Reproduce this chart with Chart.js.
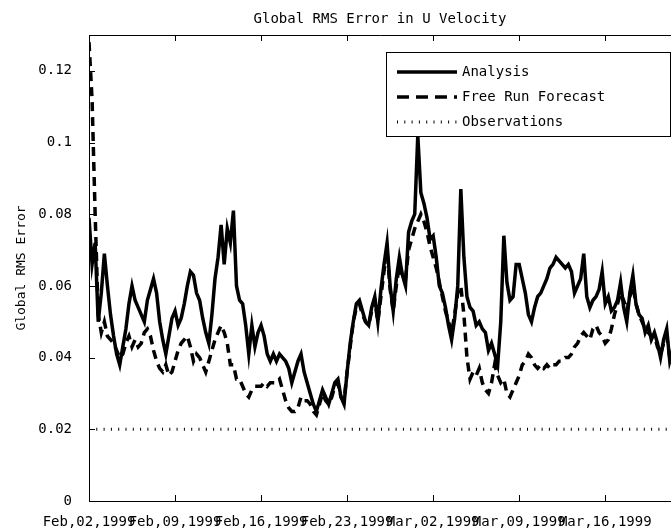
<!DOCTYPE html>
<html>
<head>
<meta charset="utf-8">
<script src="https://cdn.jsdelivr.net/npm/chart.js@4"></script>
<style>
body { margin: 0; background: #fff; }
</style>
</head>
<body>
<canvas id="rmsChart" width="671" height="530"></canvas>
<script>
var STEP = 0.25; // days between samples (6 hourly)
var tickDays = [0, 7, 14, 21, 28, 35, 42];
var tickLabels = ['Feb,02,1999', 'Feb,09,1999', 'Feb,16,1999', 'Feb,23,1999', 'Mar,02,1999', 'Mar,09,1999', 'Mar,16,1999'];
var yTicks = [0, 0.02, 0.04, 0.06, 0.08, 0.1, 0.12];
var yTickLabels = ['0', '0.02', '0.04', '0.06', '0.08', '0.1', '0.12'];

// one row per day
var analysis = [
    0.079, 0.066, 0.072, 0.050,
    0.058, 0.069, 0.060, 0.052,
    0.046, 0.041, 0.038, 0.043,
    0.048, 0.055, 0.060, 0.056,
    0.054, 0.052, 0.050, 0.056,
    0.059, 0.062, 0.058, 0.050,
    0.045, 0.041, 0.046, 0.051,
    0.053, 0.049, 0.051, 0.055,
    0.060, 0.064, 0.063, 0.058,
    0.056, 0.051, 0.047, 0.044,
    0.052, 0.062, 0.068, 0.077,
    0.066, 0.076, 0.072, 0.081,
    0.060, 0.056, 0.055, 0.049,
    0.041, 0.049, 0.043, 0.047,
    0.049, 0.046, 0.041, 0.039,
    0.041, 0.039, 0.041, 0.040,
    0.039, 0.037, 0.033, 0.036,
    0.039, 0.041, 0.036, 0.033,
    0.030, 0.027, 0.025, 0.028,
    0.031, 0.029, 0.027, 0.030,
    0.033, 0.034, 0.029, 0.027,
    0.036, 0.044, 0.050, 0.055,
    0.056, 0.053, 0.050, 0.049,
    0.054, 0.057, 0.050, 0.059,
    0.066, 0.072, 0.060, 0.053,
    0.062, 0.068, 0.063, 0.060,
    0.075, 0.078, 0.080, 0.102,
    0.086, 0.083, 0.079, 0.073,
    0.074, 0.068, 0.060, 0.058,
    0.054, 0.049, 0.045, 0.051,
    0.060, 0.087, 0.068, 0.057,
    0.054, 0.053, 0.049, 0.050,
    0.048, 0.047, 0.042, 0.044,
    0.041, 0.038, 0.050, 0.074,
    0.061, 0.056, 0.057, 0.066,
    0.066, 0.062, 0.058, 0.052,
    0.050, 0.054, 0.057, 0.058,
    0.060, 0.062, 0.065, 0.066,
    0.068, 0.067, 0.066, 0.065,
    0.066, 0.064, 0.058, 0.060,
    0.062, 0.069, 0.057, 0.054,
    0.056, 0.057, 0.059, 0.064,
    0.055, 0.057, 0.053, 0.054,
    0.056, 0.061, 0.054, 0.050,
    0.058, 0.063, 0.055, 0.052,
    0.051, 0.047, 0.049, 0.045,
    0.047, 0.044, 0.040, 0.045,
    0.048, 0.039, 0.042
];

var forecast = [
    0.128, 0.112, 0.080, 0.052,
    0.047, 0.050, 0.046, 0.045,
    0.044, 0.042, 0.040, 0.041,
    0.044, 0.046, 0.043, 0.045,
    0.043, 0.044, 0.047, 0.048,
    0.046, 0.042, 0.039, 0.037,
    0.036, 0.038, 0.035, 0.036,
    0.039, 0.042, 0.044, 0.045,
    0.046, 0.043, 0.039, 0.041,
    0.040, 0.038, 0.036, 0.039,
    0.042, 0.045, 0.047, 0.049,
    0.047, 0.044, 0.038, 0.038,
    0.034, 0.034, 0.032, 0.030,
    0.029, 0.031, 0.032, 0.032,
    0.032, 0.033, 0.032, 0.033,
    0.033, 0.033, 0.034, 0.031,
    0.028, 0.026, 0.025, 0.025,
    0.026, 0.029, 0.028, 0.028,
    0.027, 0.025, 0.024, 0.027,
    0.030, 0.028, 0.027, 0.029,
    0.032, 0.033, 0.029, 0.028,
    0.036, 0.043, 0.050, 0.054,
    0.055, 0.052, 0.050, 0.049,
    0.053, 0.056, 0.050, 0.057,
    0.064, 0.070, 0.059, 0.053,
    0.060, 0.066, 0.062, 0.062,
    0.070, 0.073, 0.076, 0.078,
    0.080, 0.078, 0.075, 0.071,
    0.068, 0.065, 0.061, 0.057,
    0.053, 0.050, 0.047, 0.052,
    0.058, 0.060, 0.052, 0.040,
    0.034, 0.036, 0.035, 0.037,
    0.033, 0.031, 0.030, 0.033,
    0.038, 0.035, 0.033, 0.034,
    0.030, 0.029, 0.031, 0.033,
    0.035, 0.038, 0.039, 0.041,
    0.040, 0.038, 0.037, 0.038,
    0.037, 0.038, 0.037, 0.038,
    0.038, 0.039, 0.039, 0.040,
    0.040, 0.041, 0.043, 0.044,
    0.046, 0.047, 0.046, 0.045,
    0.048, 0.049, 0.047, 0.046,
    0.044, 0.045, 0.048, 0.052,
    0.055, 0.058, 0.056, 0.053,
    0.057, 0.060, 0.055, 0.052,
    0.050, 0.048, 0.047, 0.046,
    0.046, 0.043, 0.041, 0.044,
    0.046, 0.040, 0.041
];

var obsDays = [0, 47.5];
var observations = [0.02, 0.02];

function toPoints(values) {
    return values.map(function (v, i) { return { x: i * STEP, y: v }; });
}

var FONT = "'DejaVu Sans Mono', 'Liberation Mono', monospace";

// box, inward ticks and the legend, matlab style
var framePlugin = {
    id: 'frame',
    afterDraw: function (chart) {
        var ctx = chart.ctx;
        var a = chart.chartArea;
        var xs = chart.scales.x, ys = chart.scales.y;
        ctx.save();
        ctx.strokeStyle = '#000';
        ctx.lineWidth = 1;
        ctx.setLineDash([]);
        ctx.beginPath();
        ctx.moveTo(a.left + 0.5, a.bottom + 0.5);
        ctx.lineTo(a.left + 0.5, a.top + 0.5);
        ctx.lineTo(a.right, a.top + 0.5);
        ctx.moveTo(a.left, a.bottom + 0.5);
        ctx.lineTo(a.right, a.bottom + 0.5);
        tickDays.forEach(function (d) {
            var px = Math.round(xs.getPixelForValue(d)) + 0.5;
            ctx.moveTo(px, a.bottom);
            ctx.lineTo(px, a.bottom - 6);
            ctx.moveTo(px, a.top);
            ctx.lineTo(px, a.top + 6);
        });
        yTicks.forEach(function (v) {
            var py = Math.round(ys.getPixelForValue(v)) + 0.5;
            ctx.moveTo(a.left, py);
            ctx.lineTo(a.left + 6, py);
        });
        ctx.stroke();

        // legend
        var lx = 386, ly = 52, lw = 284, lh = 84;
        ctx.fillStyle = '#fff';
        ctx.fillRect(lx, ly, lw, lh);
        ctx.strokeRect(lx + 0.5, ly + 0.5, lw, lh);
        ctx.font = '14px ' + FONT;
        ctx.textBaseline = 'middle';
        chart.data.datasets.forEach(function (ds, i) {
            var yy = ly + 20 + i * 25;
            ctx.beginPath();
            ctx.strokeStyle = '#000';
            ctx.lineWidth = ds.legendWidth;
            ctx.setLineDash(ds.legendDash);
            ctx.moveTo(397, yy);
            ctx.lineTo(457, yy);
            ctx.stroke();
            ctx.fillStyle = '#000';
            ctx.fillText(ds.label, 462, yy);
        });
        ctx.restore();
    }
};

var ctx = document.getElementById('rmsChart');
var rmsChart = new Chart(ctx, {
    type: 'line',
    data: {
        datasets: [{
            label: 'Analysis',
            data: toPoints(analysis),
            borderColor: '#000',
            borderWidth: 3.5,
            pointRadius: 0,
            tension: 0,
            legendWidth: 3.5,
            legendDash: []
        }, {
            label: 'Free Run Forecast',
            data: toPoints(forecast),
            borderColor: '#000',
            borderWidth: 3.5,
            borderDash: [9, 6],
            pointRadius: 0,
            tension: 0,
            legendWidth: 3.5,
            legendDash: [12, 7]
        }, {
            label: 'Observations',
            data: obsDays.map(function (d, i) { return { x: d, y: observations[i] }; }),
            borderColor: '#000',
            borderWidth: 3,
            borderDash: [1, 6.3],
            pointRadius: 0,
            legendWidth: 3,
            legendDash: [1, 6.3]
        }]
    },
    options: {
        responsive: false,
        animation: false,
        layout: { padding: { left: 0, right: 0, top: 0, bottom: 0 } },
        plugins: {
            legend: { display: false },
            tooltip: { enabled: false },
            title: {
                display: true,
                text: 'Global RMS Error in U Velocity',
                fullSize: false,
                color: '#000',
                font: { family: FONT, size: 14, weight: 'normal' },
                padding: { top: 11, bottom: 7.2 }
            }
        },
        scales: {
            x: {
                type: 'linear',
                min: 0,
                max: 47.35,
                grid: { display: false },
                border: { display: false },
                afterBuildTicks: function (scale) {
                    scale.ticks = tickDays.map(function (d) { return { value: d }; });
                },
                afterFit: function (scale) { scale.height = 29; },
                ticks: {
                    autoSkip: false,
                    maxRotation: 0,
                    padding: 5,
                    color: '#000',
                    font: { family: FONT, size: 14 },
                    callback: function (value, index) { return tickLabels[index]; }
                }
            },
            y: {
                min: 0,
                max: 0.13,
                grid: { display: false },
                border: { display: false },
                afterBuildTicks: function (scale) {
                    scale.ticks = yTicks.map(function (v) { return { value: v }; });
                },
                afterFit: function (scale) { scale.width = 89; },
                title: {
                    display: true,
                    text: 'Global RMS Error',
                    color: '#000',
                    font: { family: FONT, size: 13 },
                    padding: { top: 14, bottom: 0 }
                },
                ticks: {
                    padding: 9,
                    color: '#000',
                    font: { family: FONT, size: 14 },
                    callback: function (value, index) { return yTickLabels[index]; }
                }
            }
        }
    },
    plugins: [framePlugin]
});
</script>
</body>
</html>
